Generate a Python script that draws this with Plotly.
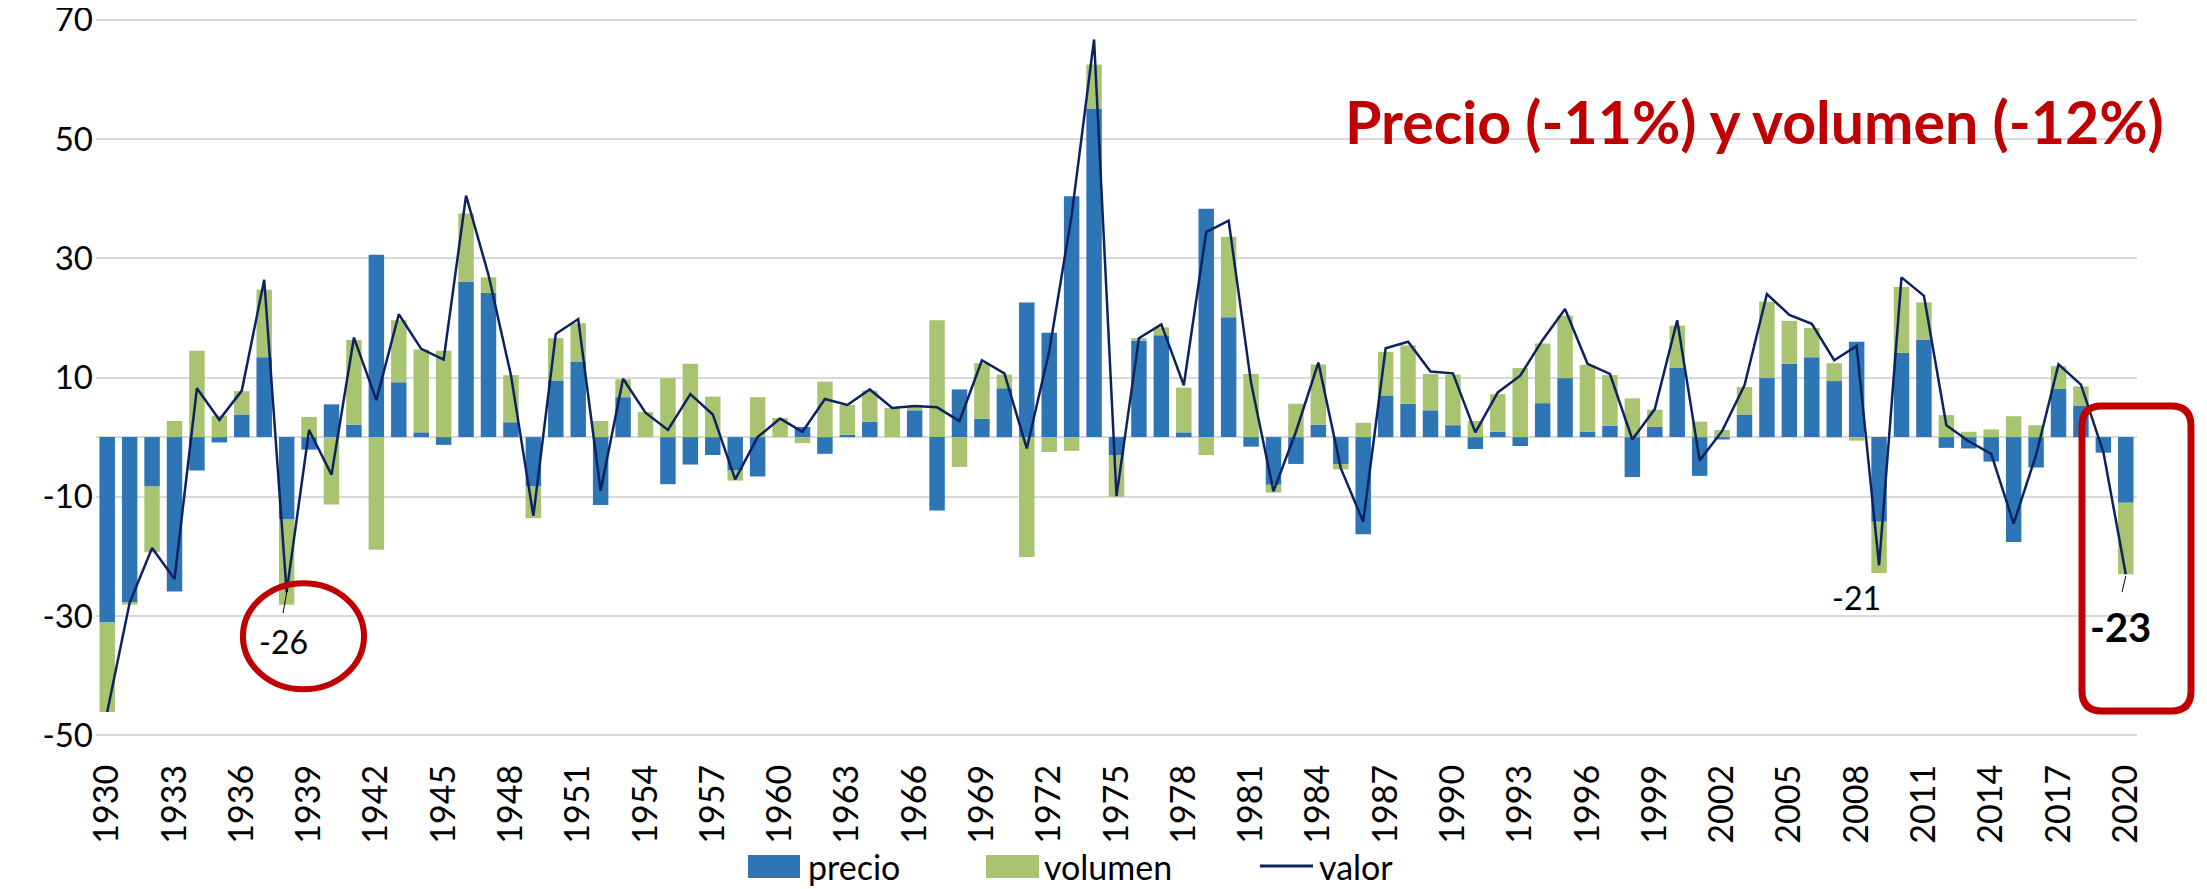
import plotly.graph_objects as go

# datos (variacion anual, %)
years = list(range(1930, 2021))

precio = [
    -31.1, -27.8, -8.3, -25.9, -5.6, -0.9, 3.8, 13.4, -13.8, -2.1,
    5.5, 2.1, 30.6, 9.2, 0.8, -1.3, 26.0, 24.2, 2.5, -8.3,
    9.5, 12.6, -11.4, 6.7, 0.0, -7.9, -4.6, -3.0, -5.6, -6.6,
    0.0, 1.7, -2.8, 0.4, 2.6, 0.0, 4.5, -12.3, 8.0, 3.1,
    8.2, 22.6, 17.5, 40.4, 55.1, -3.0, 16.2, 17.1, 0.8, 38.3,
    20.1, -1.6, -8.0, -4.5, 2.1, -4.5, -16.3, 7.0, 5.6, 4.5,
    2.0, -2.0, 0.9, -1.5, 5.7, 9.9, 0.9, 1.9, -6.7, 1.7,
    11.6, -6.5, -0.4, 3.8, 9.9, 12.3, 13.4, 9.4, 16.0, -14.2,
    14.1, 16.3, -1.8, -1.9, -4.1, -17.6, -5.1, 8.1, 5.3, -2.6,
    -11.0,
]

volumen = [
    -15.0, -0.3, -11.0, 2.7, 14.5, 3.6, 3.9, 11.3, -14.3, 3.4,
    -11.3, 14.2, -18.9, 10.4, 13.9, 14.5, 11.5, 2.6, 7.9, -5.3,
    7.1, 6.5, 2.7, 3.0, 4.2, 9.9, 12.3, 6.8, -1.7, 6.7,
    3.2, -1.0, 9.3, 5.0, 5.2, 4.9, 0.6, 19.6, -5.0, 9.3,
    2.3, -20.1, -2.5, -2.3, 7.4, -7.0, 0.4, 1.3, 7.5, -3.0,
    13.5, 10.6, -1.3, 5.6, 10.1, -0.9, 2.4, 7.3, 9.8, 6.1,
    8.5, 2.7, 6.3, 11.6, 10.0, 10.5, 11.2, 8.5, 6.5, 2.9,
    7.1, 2.6, 1.2, 4.6, 12.8, 7.2, 4.9, 3.0, -0.6, -8.6,
    11.1, 6.3, 3.7, 0.9, 1.3, 3.5, 2.0, 3.8, 3.2, 0.0,
    -12.0,
]

valor = [
    -46.1, -27.8, -18.6, -23.8, 8.2, 2.9, 7.8, 26.4, -26.0, 1.2,
    -6.3, 16.7, 6.2, 20.6, 14.8, 13.0, 40.5, 27.2, 10.4, -13.2,
    17.3, 19.8, -9.0, 9.8, 4.1, 1.2, 7.2, 3.8, -7.1, 0.0,
    3.1, 0.9, 6.4, 5.4, 8.0, 4.9, 5.2, 5.0, 2.7, 12.9,
    10.7, -1.9, 14.4, 37.2, 66.7, -9.9, 16.6, 18.9, 8.7, 34.4,
    36.3, 9.1, -9.1, 0.9, 12.5, -5.2, -14.2, 14.9, 16.0, 11.0,
    10.7, 0.8, 7.5, 10.3, 16.3, 21.5, 12.3, 10.6, -0.4, 4.7,
    19.6, -3.9, 1.0, 8.7, 24.0, 20.5, 19.0, 12.9, 15.3, -21.5,
    26.8, 23.7, 2.0, -0.7, -2.8, -14.5, -3.0, 12.2, 8.8, -2.5,
    -23.0,
]

x_ticks = years[::3]
y_ticks = [-50, -30, -10, 10, 30, 50, 70]
y_ticktext = ['-50', '-30', '-10', '10', '30', '50', '70']

titulo = 'Precio (-11%) y volumen (-12%)'
series_names = ['precio', 'volumen', 'valor']

BLUE = '#2E75B6'
GREEN = '#A9C471'
NAVY = '#0D2260'
RED = '#C00000'
FONT = 'Lato'

fig = go.Figure()
fig.add_trace(go.Bar(name=series_names[0], x=years, y=precio, marker_color=BLUE,
                     marker_line_width=0, showlegend=False))
fig.add_trace(go.Bar(name=series_names[1], x=years, y=volumen, marker_color=GREEN,
                     marker_line_width=0, showlegend=False))
fig.add_trace(go.Scatter(name=series_names[2], x=years, y=valor, mode='lines',
                         line=dict(color=NAVY, width=2.5), showlegend=False))

# plot area (screen pixels): x 96..2137, y 18..737
def px(x):
    return (x - 96) / 2041


def py(y):
    return (737 - y) / 719


# recuadro redondeado alrededor de 2020 (coordenadas paper)
x0, x1, y0, y1 = px(2082), px(2191), py(711), py(406)
rx, ry = 20 / 2041, 20 / 719
rounded = (f'M {x0 + rx},{y0} L {x1 - rx},{y0} Q {x1},{y0} {x1},{y0 + ry} '
           f'L {x1},{y1 - ry} Q {x1},{y1} {x1 - rx},{y1} '
           f'L {x0 + rx},{y1} Q {x0},{y1} {x0},{y1 - ry} '
           f'L {x0},{y0 + ry} Q {x0},{y0} {x0 + rx},{y0} Z')

shapes = [
    dict(type='circle', xref='x', yref='y', x0=1936.05, x1=1941.45, y0=-42.3, y1=-24.5,
         line=dict(color=RED, width=6)),
    dict(type='path', xref='paper', yref='paper', path=rounded,
         line=dict(color=RED, width=7)),
    dict(type='line', xref='x', yref='y', x0=1938.02, y0=-25.7, x1=1937.84, y1=-29.5,
         line=dict(color='black', width=1)),
    dict(type='line', xref='x', yref='y', x0=2020.0, y0=-23.3, x1=2019.83, y1=-26.0,
         line=dict(color='black', width=1)),
]

annotations = [
    dict(text=f'<b>{titulo}</b>', xref='paper', yref='paper', x=px(1754), y=py(122),
         xanchor='center', yanchor='middle',
         showarrow=False, font=dict(size=59, color=RED, family=FONT)),
    dict(text='-26', xref='x', yref='y', x=1937.84, y=-34.25, showarrow=False,
         font=dict(size=32, family=FONT)),
    dict(text='-21', xref='x', yref='y', x=2008.01, y=-26.9, showarrow=False,
         font=dict(size=32, family=FONT)),
    dict(text='<b>-23</b>', xref='x', yref='y', x=2019.78, y=-31.9, showarrow=False,
         font=dict(size=40, family=FONT)),
]

# leyenda dibujada a mano (muestras grandes como en el original)
leg_y = py(866)
leg_items = [(748, 800, 806, BLUE, 'bar'), (986, 1039, 1042, GREEN, 'bar'),
             (1260, 1313, 1317, NAVY, 'line')]
for name, (sx0, sx1, tx, col, kind) in zip(series_names, leg_items):
    if kind == 'bar':
        shapes.append(dict(type='rect', xref='paper', yref='paper',
                           x0=px(sx0), x1=px(sx1), y0=py(878), y1=py(855),
                           fillcolor=col, line_width=0))
    else:
        shapes.append(dict(type='line', xref='paper', yref='paper',
                           x0=px(sx0), x1=px(sx1), y0=leg_y, y1=leg_y,
                           line=dict(color=col, width=3)))
    annotations.append(dict(text=name, xref='paper', yref='paper', x=px(tx), y=leg_y,
                            xanchor='left', yanchor='middle', showarrow=False,
                            font=dict(size=34, family=FONT)))

# the page body adds an 8px margin, so the figure is 8px smaller on each axis
fig.update_layout(
    width=2199, height=881,
    barmode='relative', bargap=0.31,
    plot_bgcolor='white', paper_bgcolor='white',
    margin=dict(l=88, r=70, t=10, b=152, pad=0, autoexpand=False),
    font=dict(family=FONT, color='black'),
    showlegend=False,
    xaxis=dict(range=[1929.5, 2020.5], tickvals=x_ticks, tickangle=-90,
               tickfont=dict(size=34, family=FONT), showgrid=False, zeroline=False,
               showline=False, ticks='', ticklen=0, ticklabelstandoff=20, automargin=False),
    yaxis=dict(range=[-50.3, 70.3], tickvals=y_ticks, ticktext=y_ticktext,
               tickfont=dict(size=33, family=FONT), showgrid=True, gridcolor='#D9D9D9',
               gridwidth=1.5, zeroline=True, zerolinecolor='#D9D9D9', zerolinewidth=1.5,
               showline=False, ticks='', ticklen=0, ticklabelstandoff=2, automargin=False,
               ticklabeloverflow='allow'),
    shapes=shapes,
    annotations=annotations,
)

fig.write_html('out.html')
